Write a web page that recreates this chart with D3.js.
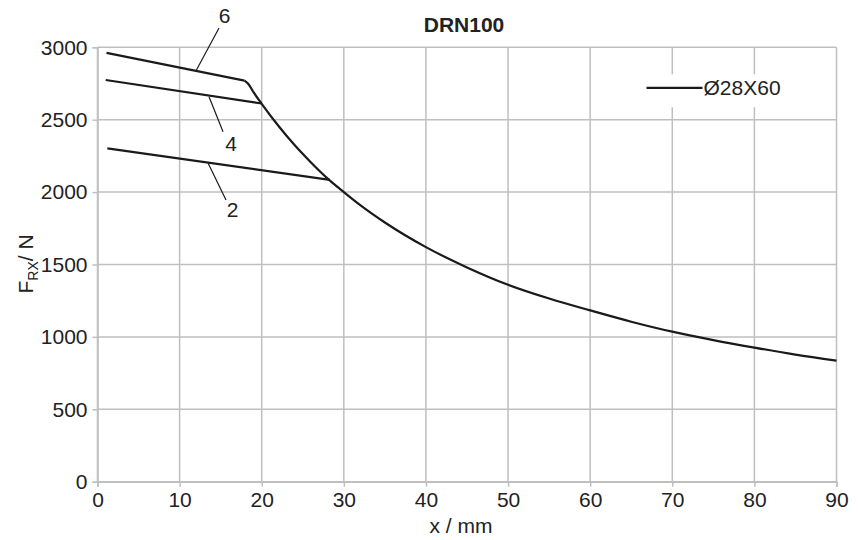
<!DOCTYPE html>
<html>
<head>
<meta charset="utf-8">
<script src="https://cdn.jsdelivr.net/npm/d3@7"></script>
<style>
  body { margin: 0; background: #fff; }
  text { font-family: "Liberation Sans", Arial, sans-serif; fill: #222; }
</style>
</head>
<body>
<div id="chart"></div>
<script>
var svgWidth = 858;
var svgHeight = 540;

// values (x in mm, F in N)
var xTicks = [0, 10, 20, 30, 40, 50, 60, 70, 80, 90];
var yTicks = [0, 500, 1000, 1500, 2000, 2500, 3000];

var envelope = [
    [17.9, 2770], [18.4, 2745], [19, 2690], [20, 2610], [22, 2460], [24, 2325],
    [26, 2205], [28, 2095], [30, 2000], [32, 1910], [35, 1790], [40, 1620],
    [45, 1480], [50, 1360], [55, 1265], [60, 1183], [65, 1105], [70, 1036],
    [75, 978], [80, 926], [85, 878], [90, 836]
];
var line6 = [[1.1, 2962], [17.9, 2770]];
var line4 = [[1.0, 2774], [20.0, 2612]];
var line2 = [[1.2, 2302], [28.3, 2085]];

// curve labels and their leader lines
var labels = [
    { text: '6', x: 15.47, y: 3170, from: [14.8, 3133], to: [12.0, 2838] },
    { text: '4', x: 16.28, y: 2286, from: [15.29, 2417], to: [13.58, 2659] },
    { text: '2', x: 16.44, y: 1830, from: [15.65, 1945], to: [13.46, 2201] }
];

var legendLabel = 'Ø28X60';
var title = 'DRN100';

var margin = {
    left: 97.5,
    top: 47.3,
    right: 21.5,
    bottom: 58.3
}

var height = svgHeight - margin.top - margin.bottom;
var width = svgWidth - margin.left - margin.right;

var svg = d3.select('#chart').append('svg')
    .attr('height', svgHeight)
    .attr('width', svgWidth)

var chartArea = svg.append('g')
    .attr('transform', `translate(${margin.left},${margin.top})`)

var xScale = d3.scaleLinear()
    .domain([0, 90])
    .range([0, width])

var yScale = d3.scaleLinear()
    .domain([0, 3000])
    .range([height, 0])

var gridColor = '#bfbfbf';

// grid
chartArea.selectAll('.vgrid')
    .data(xTicks)
    .enter()
    .append('line')
    .attr('x1', d => xScale(d))
    .attr('x2', d => xScale(d))
    .attr('y1', 0)
    .attr('y2', height)
    .attr('stroke', gridColor)
    .attr('stroke-width', 1.5)

chartArea.selectAll('.hgrid')
    .data(yTicks)
    .enter()
    .append('line')
    .attr('x1', 0)
    .attr('x2', width)
    .attr('y1', d => yScale(d))
    .attr('y2', d => yScale(d))
    .attr('stroke', gridColor)
    .attr('stroke-width', 1.5)

// axes
var xAxis = chartArea.append('g')
    .attr('transform', `translate(0,${height})`)
    .call(d3.axisBottom(xScale).tickValues(xTicks).tickSize(5).tickPadding(5).tickFormat(d3.format('d')))

var yAxis = chartArea.append('g')
    .call(d3.axisLeft(yScale).tickValues(yTicks).tickSize(5).tickPadding(5).tickFormat(d3.format('d')))

svg.selectAll('.domain, .tick line')
    .attr('stroke', gridColor)
    .attr('stroke-width', 1.5)

svg.selectAll('.tick text')
    .style('font-size', '21px')
    .style('fill', '#222')

// curves
var line = d3.line()
    .x(d => xScale(d[0]))
    .y(d => yScale(d[1]))

var lineSmooth = d3.line()
    .x(d => xScale(d[0]))
    .y(d => yScale(d[1]))
    .curve(d3.curveMonotoneX)

chartArea.selectAll('.straight')
    .data([line6, line4, line2])
    .enter()
    .append('path')
    .attr('d', line)
    .attr('fill', 'none')
    .attr('stroke', '#1a1a1a')
    .attr('stroke-width', 2.2)

chartArea.append('path')
    .datum(envelope)
    .attr('d', lineSmooth)
    .attr('fill', 'none')
    .attr('stroke', '#1a1a1a')
    .attr('stroke-width', 2.2)

// leader lines + numbers
chartArea.selectAll('.leader')
    .data(labels)
    .enter()
    .append('line')
    .attr('x1', d => xScale(d.from[0]))
    .attr('y1', d => yScale(d.from[1]))
    .attr('x2', d => xScale(d.to[0]))
    .attr('y2', d => yScale(d.to[1]))
    .attr('stroke', '#1a1a1a')
    .attr('stroke-width', 1.2)

chartArea.selectAll('.curve-label')
    .data(labels)
    .enter()
    .append('text')
    .attr('x', d => xScale(d.x))
    .attr('y', d => yScale(d.y))
    .attr('text-anchor', 'middle')
    .style('font-size', '21px')
    .text(d => d.text)

// legend
var legend = chartArea.append('g')
    .attr('transform', `translate(${width - 196},${27})`)

legend.append('rect')
    .attr('x', 0)
    .attr('y', 0)
    .attr('width', 160)
    .attr('height', 33)
    .attr('fill', '#fff')

legend.append('line')
    .attr('x1', 6)
    .attr('x2', 62)
    .attr('y1', 13.5)
    .attr('y2', 13.5)
    .attr('stroke', '#1a1a1a')
    .attr('stroke-width', 2.2)

legend.append('text')
    .attr('x', 63)
    .attr('y', 21)
    .style('font-size', '21px')
    .text(legendLabel)

// title and axis labels
svg.append('text')
    .attr('x', 464)
    .attr('y', 31.5)
    .attr('text-anchor', 'middle')
    .style('font-size', '21px')
    .style('font-weight', 'bold')
    .text(title)

svg.append('text')
    .attr('x', 461)
    .attr('y', 533)
    .attr('text-anchor', 'middle')
    .style('font-size', '21px')
    .text('x / mm')

var yLabel = svg.append('text')
    .attr('transform', 'translate(33,264) rotate(-90)')
    .attr('text-anchor', 'middle')
    .style('font-size', '21px')

yLabel.append('tspan').text('F')
yLabel.append('tspan').text('RX').attr('dy', 5).style('font-size', '14px')
yLabel.append('tspan').text('/ N').attr('dy', -5)
</script>
</body>
</html>
